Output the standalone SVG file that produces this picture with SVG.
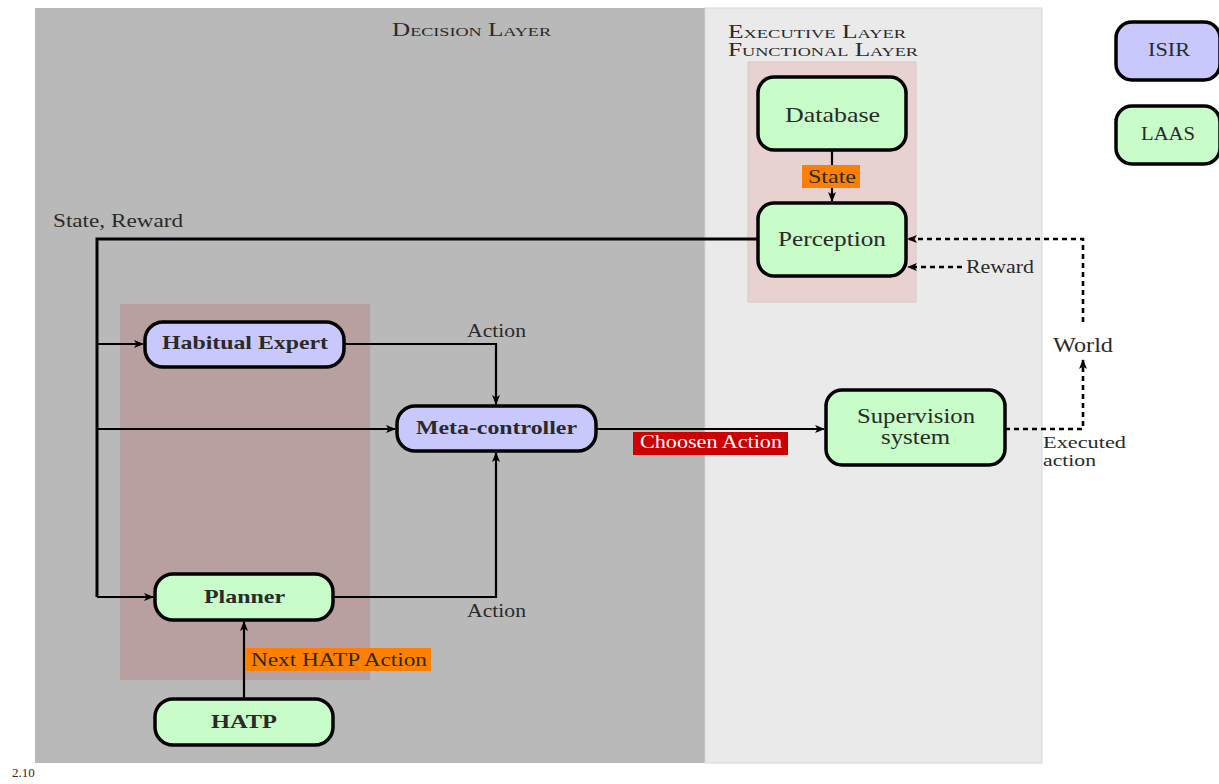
<svg xmlns="http://www.w3.org/2000/svg" width="1219" height="784" viewBox="0 0 1219 784">
<defs>
<marker id="ah" viewBox="0 0 10 10" refX="9" refY="5" markerWidth="10" markerHeight="10" markerUnits="userSpaceOnUse" orient="auto">
<path d="M0,1 L10,5 L0,9 L2.5,5 Z" fill="#000"/>
</marker>
</defs>
<style>
text{font-family:"Liberation Serif","Times New Roman",serif;fill:#2a2a2a}
.sc{font-variant:small-caps;font-size:18px}
.node rect{stroke:#000;stroke-width:3.5}
.g{fill:#c8fcc8}
.p{fill:#c8c8fc}
.b{font-weight:bold}
.lbl{font-size:19px}
.sm{font-size:17px}
.c{fill:none;stroke:#000;stroke-width:2.2}
.thick{stroke-width:3}
.d{stroke-dasharray:5,4;stroke-width:2.6}
</style>
<rect width="1219" height="784" fill="#fff"/>
<g id="layers">
<rect x="35" y="8" width="670" height="755" fill="#b9b9b9"/>
<rect x="705" y="8" width="337" height="755" fill="#eaeaea" stroke="#d6d6d6" stroke-width="1"/>
<rect x="748" y="62" width="168" height="240" fill="#e8d1d1" stroke="#dcc4c4" stroke-width="1"/>
<rect x="120" y="304" width="250" height="376" fill="#b9a0a0"/>
<text class="sc" x="392" y="36" textLength="159" lengthAdjust="spacingAndGlyphs">Decision Layer</text>
<text class="sc" x="728" y="38" textLength="178" lengthAdjust="spacingAndGlyphs">Executive Layer</text>
<text class="sc" x="728" y="56" textLength="190" lengthAdjust="spacingAndGlyphs">Functional Layer</text>
</g>
<g id="connectors">
<path class="c" d="M832,150 V201" marker-end="url(#ah)"/>
<path class="c thick" d="M758,239 H97 V597"/>
<path class="c" d="M97,344 H143" marker-end="url(#ah)"/>
<path class="c" d="M97,429 H395" marker-end="url(#ah)"/>
<path class="c" d="M97,597 H153" marker-end="url(#ah)"/>
<path class="c" d="M344,344 H496 V404" marker-end="url(#ah)"/>
<path class="c" d="M333,597 H496 V453" marker-end="url(#ah)"/>
<path class="c" d="M244,699 V622" marker-end="url(#ah)"/>
<path class="c" d="M596,429 H824" marker-end="url(#ah)"/>
<path class="c d" d="M1005,429 H1083 V360" marker-end="url(#ah)"/>
<path class="c d" d="M1083,322 V239 H908" marker-end="url(#ah)"/>
<path class="c d" d="M962,267 H908" marker-end="url(#ah)"/>
<rect x="802" y="165" width="58" height="23" fill="#ff8000"/>
<text class="lbl" x="808" y="183" textLength="48" lengthAdjust="spacingAndGlyphs">State</text>
<rect x="246" y="648" width="185" height="23" fill="#ff8000"/>
<text class="lbl" x="251" y="666" textLength="176" lengthAdjust="spacingAndGlyphs">Next HATP Action</text>
<rect x="633" y="432" width="155" height="23" fill="#cc0000"/>
<text class="lbl" x="640" y="448" textLength="142" lengthAdjust="spacingAndGlyphs" style="fill:#fff">Choosen Action</text>
<text class="lbl" x="467" y="337" textLength="59" lengthAdjust="spacingAndGlyphs">Action</text>
<text class="lbl" x="467" y="617" textLength="59" lengthAdjust="spacingAndGlyphs">Action</text>
<text class="lbl" x="53" y="227" textLength="130" lengthAdjust="spacingAndGlyphs">State, Reward</text>
<text class="lbl" x="966" y="273" textLength="68" lengthAdjust="spacingAndGlyphs">Reward</text>
<text class="sm" x="1043" y="448" textLength="83" lengthAdjust="spacingAndGlyphs">Executed</text>
<text class="sm" x="1043" y="466" textLength="53" lengthAdjust="spacingAndGlyphs">action</text>
</g>
<g id="world"><text x="1053" y="352" font-size="22" textLength="60" lengthAdjust="spacingAndGlyphs">World</text></g>
<g id="database" class="node"><rect class="g" x="758" y="77" width="148" height="73" rx="16"/><text x="785" y="122" font-size="22" textLength="95" lengthAdjust="spacingAndGlyphs">Database</text></g>
<g id="perception" class="node"><rect class="g" x="758" y="203" width="148" height="73" rx="16"/><text x="778" y="246" font-size="22" textLength="108" lengthAdjust="spacingAndGlyphs">Perception</text></g>
<g id="habitual" class="node"><rect class="p" x="145" y="322" width="199" height="45" rx="18"/><text class="b" x="162" y="349" font-size="19" textLength="166" lengthAdjust="spacingAndGlyphs">Habitual Expert</text></g>
<g id="meta" class="node"><rect class="p" x="397" y="406" width="199" height="45" rx="18"/><text class="b" x="416" y="434" font-size="19" textLength="161" lengthAdjust="spacingAndGlyphs">Meta-controller</text></g>
<g id="planner" class="node"><rect class="g" x="155" y="574" width="178" height="46" rx="18"/><text class="b" x="204" y="603" font-size="19" textLength="81" lengthAdjust="spacingAndGlyphs">Planner</text></g>
<g id="hatp" class="node"><rect class="g" x="155" y="699" width="178" height="46" rx="18"/><text class="b" x="211" y="728" font-size="19" textLength="66" lengthAdjust="spacingAndGlyphs">HATP</text></g>
<g id="supervision" class="node"><rect class="g" x="826" y="390" width="179" height="75" rx="16"/><text x="857" y="423" font-size="20" textLength="118" lengthAdjust="spacingAndGlyphs">Supervision</text><text x="881" y="444" font-size="20" textLength="69" lengthAdjust="spacingAndGlyphs">system</text></g>
<g id="isir" class="node"><rect class="p" x="1116" y="22" width="104" height="58" rx="16"/><text x="1148" y="56" font-size="18" textLength="42" lengthAdjust="spacingAndGlyphs">ISIR</text></g>
<g id="laas" class="node"><rect class="g" x="1116" y="106" width="104" height="58" rx="16"/><text x="1141" y="140" font-size="18" textLength="54" lengthAdjust="spacingAndGlyphs">LAAS</text></g>
<text x="12" y="777" font-size="13">2.10</text>
</svg>
